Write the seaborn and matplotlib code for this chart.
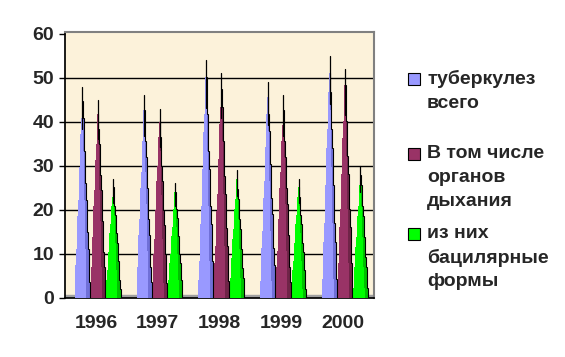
import matplotlib
matplotlib.use("Agg")
import matplotlib.pyplot as plt
import seaborn as sns
import pandas as pd
from matplotlib.patches import Rectangle

years = ["1996", "1997", "1998", "1999", "2000"]
series = ["туберкулез\nвсего", "В том числе\nорганов\nдыхания", "из них\nбацилярные\nформы"]
total = [48, 46, 54, 49, 55]
respiratory = [45, 43, 51, 46, 52]
bacillary = [27, 26, 29, 27, 30]
yticks = [0, 10, 20, 30, 40, 50, 60]

colors = ["#9999FF", "#993366", "#00FF00"]
dark = ["#7070D8", "#702448", "#00C000"]

rows = []
for s, vals in zip(series, [total, respiratory, bacillary]):
    for y, v in zip(years, vals):
        rows.append({"year": y, "series": s, "value": v})
df = pd.DataFrame(rows)

sns.set_theme(style="white")
plt.rcParams["font.family"] = ["Liberation Sans", "DejaVu Sans"]

fig = plt.figure(figsize=(5.65, 3.57), dpi=100)
ax = fig.add_axes([65/565, 1-298/357, (374-65)/565, (298-32)/357])
ax.set_facecolor("#FCF2DA")

sns.barplot(data=df, x="year", y="value", hue="series", palette=colors,
            width=0.75, dodge=True, legend=False, ax=ax, order=years, hue_order=series)

patches = list(ax.patches)
n = len(years)
for idx, p in enumerate(patches):
    si = idx // n
    x0, w, h = p.get_x(), p.get_width(), p.get_height()
    p.remove()
    if h <= 0:
        continue
    cx = x0 + w / 2 + 0.03
    top = h * 0.93
    steps = 12
    for i in range(steps):
        yb = top * i / steps
        hw = (w / 2) * (1 - i / steps) * 0.97
        hh = top / steps
        ax.add_patch(Rectangle((cx - hw, yb), hw * 1.55, hh, facecolor=colors[si],
                               edgecolor="none", zorder=3))
        ax.add_patch(Rectangle((cx + hw * 0.55, yb), hw * 0.45, hh, facecolor=dark[si],
                               edgecolor="none", zorder=3))
        ax.plot([cx + hw, cx + hw], [yb, yb + hh], color="black", lw=0.8, zorder=4)
    ax.plot([cx, cx], [h * 0.8, h], color="black", lw=0.9, zorder=4)

ax.set_ylim(0, 60.4)
ax.set_xlim(-0.5, n - 0.5)
ax.set_yticks(yticks)
ax.set_yticklabels([str(t) for t in yticks], fontsize=14, fontweight="bold")
for t in yticks[1:-1]:
    ax.axhline(t, color="black", lw=1, zorder=1)
ax.axhspan(0, 0.7, color="#A0A0A0", zorder=2)

ax.set_xticks(range(n))
ax.set_xticklabels(years, fontsize=14, fontweight="bold")
ax.set_xticks([i - 0.5 for i in range(n + 1)], minor=True)
ax.tick_params(axis="x", which="major", length=0, pad=12)
ax.tick_params(axis="x", which="minor", length=4, width=1, color="black", direction="out")
ax.tick_params(axis="y", length=4, width=1, color="black", direction="out", pad=4, left=True)
ax.set_xlabel("")
ax.set_ylabel("")
for side in ["top", "right"]:
    ax.spines[side].set_color("#808080")
    ax.spines[side].set_linewidth(1.5)
ax.spines["left"].set_color("black")
ax.spines["bottom"].set_color("black")

# legend
fig_h = 357
sq_y = [73, 148, 228]
for si, (lab, y) in enumerate(zip(series, sq_y)):
    fig.add_artist(Rectangle((408/565, 1-(y+12)/fig_h), 12/565, 12/fig_h,
                             facecolor=colors[si], edgecolor="black", lw=0.8,
                             transform=fig.transFigure))
    for li, line in enumerate(lab.split("\n")):
        fig.text(427/565, 1-(y + 6 + li * 24)/fig_h, line, fontsize=14,
                 fontweight="bold", va="center", ha="left")

fig.savefig("out.png", dpi=100, facecolor="white")
